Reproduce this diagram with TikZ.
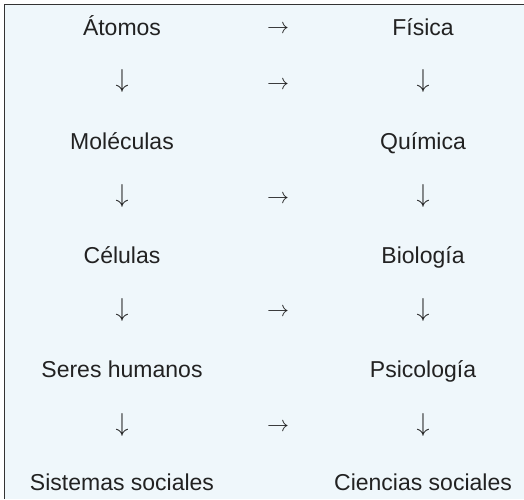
\documentclass[tikz,border=0pt]{standalone}
\usepackage{fontspec}
\setmainfont{Liberation Sans}
\definecolor{panelbg}{HTML}{EFF7FB}
\definecolor{frameline}{HTML}{333333}
\definecolor{inktext}{HTML}{222222}
\newcommand{\dnarr}{\scalebox{1.25}{$\downarrow$}}
\newcommand{\rtarr}{\scalebox{1.06}{$\rightarrow$}}
\tikzset{
  lbl/.style={inner sep=0pt, anchor=base, text=inktext, font=\fontsize{23}{27}\selectfont},
  arr/.style={inner sep=0pt, anchor=center, text=inktext, font=\fontsize{20.74}{25}\selectfont},
}
\begin{document}
\begin{tikzpicture}[x=1pt,y=-1pt]
\useasboundingbox (0,0) rectangle (524,499);
\fill[panelbg] (4.5,4.5) rectangle (524,499);
\draw[frameline, line width=1.5pt] (4.5,499) -- (4.5,4.5) -- (524,4.5);
% left column
\node[lbl] (atomos) at (122,35) {Átomos};
\node[arr] (ld1) at (122,81.5) {\dnarr};
\node[lbl] (moleculas) at (122,149) {Moléculas};
\node[arr] (ld2) at (122,196) {\dnarr};
\node[lbl] (celulas) at (122,263) {Células};
\node[arr] (ld3) at (122,310.5) {\dnarr};
\node[lbl] (seres) at (122,377) {Seres humanos};
\node[arr] (ld4) at (122,425) {\dnarr};
\node[lbl] (sistemas) at (122,490) {Sistemas sociales};
% middle column
\node[arr] (m0) at (278,29) {\rtarr};
\node[arr] (m1) at (278,85) {\rtarr};
\node[arr] (m2) at (278,199) {\rtarr};
\node[arr] (m3) at (278,312) {\rtarr};
\node[arr] (m4) at (278,427) {\rtarr};
% right column
\node[lbl] (fisica) at (423,35) {Física};
\node[arr] (rd1) at (423,81.5) {\dnarr};
\node[lbl] (quimica) at (423,149) {Química};
\node[arr] (rd2) at (423,196) {\dnarr};
\node[lbl] (biologia) at (423,263) {Biología};
\node[arr] (rd3) at (423,310.5) {\dnarr};
\node[lbl] (psicologia) at (423,377) {Psicología};
\node[arr] (rd4) at (423,425) {\dnarr};
\node[lbl] (ciencias) at (423,490) {Ciencias sociales};
\end{tikzpicture}
\end{document}
